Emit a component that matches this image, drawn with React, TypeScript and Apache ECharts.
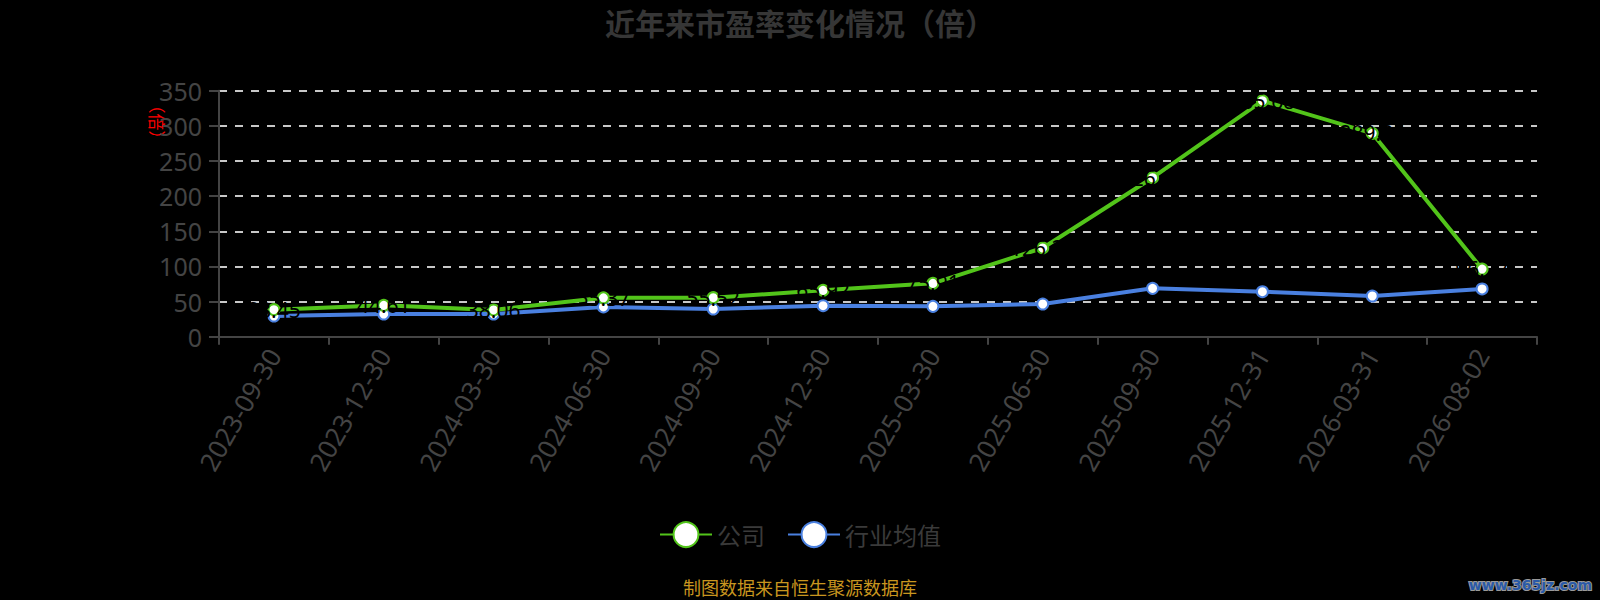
import React, { useEffect, useRef } from "react";
import * as echarts from "echarts";

const categories = [
  "2023-09-30", "2023-12-30", "2024-03-30", "2024-06-30", "2024-09-30", "2024-12-30",
  "2025-03-30", "2025-06-30", "2025-09-30", "2025-12-31", "2026-03-31", "2026-08-02",
];
const companyPE = [38.45, 44.61, 38.06, 55.37, 55.52, 65.92, 75.91, 126.23, 226.17, 335.68, 289.35, 96.27];
const industryPE = [29.4, 32.3, 32.3, 42.3, 39.4, 44.1, 43.2, 46.5, 68.8, 64.0, 57.9, 67.9];
const yTicks = { min: 0, max: 350, interval: 50 };

const FONT = "'Noto Sans', 'Noto Sans CJK SC', sans-serif";
const CJK = "'Noto Sans CJK SC', sans-serif";

export default function App() {
  const ref = useRef<HTMLDivElement>(null);
  useEffect(() => {
    if (!ref.current) return;
    const chart = echarts.init(ref.current, null, { renderer: "svg" });
    chart.setOption({
      animation: false,
      backgroundColor: "#000",
      textStyle: { fontFamily: FONT },
      title: {
        text: "近年来市盈率变化情况（倍）",
        left: "center",
        top: 2,
        textStyle: { fontSize: 30, fontWeight: "bold", color: "#363636", fontFamily: CJK },
      },
      legend: {
        bottom: 47,
        left: "center",
        itemWidth: 52,
        itemHeight: 31,
        itemGap: 22,
        textStyle: { fontSize: 24, color: "#3a3a3a", fontFamily: CJK },
        data: ["公司", "行业均值"],
      },
      grid: { left: 219, right: 63, top: 90.7, bottom: 263.3, containLabel: false },
      xAxis: {
        type: "category",
        data: categories,
        boundaryGap: true,
        axisLine: { lineStyle: { color: "#444", width: 2 } },
        axisTick: { show: true, length: 8, lineStyle: { color: "#444", width: 2 } },
        axisLabel: { rotate: 60, fontSize: 26, color: "#444", margin: 14, interval: 0 },
      },
      yAxis: {
        type: "value",
        min: yTicks.min,
        max: yTicks.max,
        interval: yTicks.interval,
        axisLine: { show: true, lineStyle: { color: "#444", width: 2 } },
        axisTick: { show: true, length: 10, lineStyle: { color: "#444", width: 2 } },
        axisLabel: { fontSize: 25, color: "#444", margin: 17 },
        splitLine: { show: true, lineStyle: { color: "#c8c8c8", width: 2, type: [8, 8] } },
      },
      series: [
        {
          name: "公司",
          type: "line",
          data: companyPE,
          symbol: "emptyCircle",
          symbolSize: 11,
          lineStyle: { color: "#52c41a", width: 4 },
          itemStyle: { color: "#52c41a", borderWidth: 2.5 },
          label: {
            show: true,
            position: "inside",
            color: "#000",
            fontSize: 21,
            formatter: (p: any) => Number(p.value).toFixed(2),
          },
          z: 3,
        },
        {
          name: "行业均值",
          type: "line",
          data: industryPE,
          symbol: "emptyCircle",
          symbolSize: 11,
          lineStyle: { color: "#4a80e0", width: 4 },
          itemStyle: { color: "#4a80e0", borderWidth: 2.5 },
          z: 2,
        },
      ],
      graphic: [
        {
          type: "text",
          x: 157,
          y: 122,
          rotation: -Math.PI / 2,
          style: {
            text: "（倍）",
            fill: "#f00",
            align: "center",
            verticalAlign: "middle",
            font: "17px 'Noto Sans CJK SC', sans-serif",
          },
        },
        {
          type: "text",
          left: "center",
          top: 578,
          style: {
            text: "制图数据来自恒生聚源数据库",
            fill: "#c9961f",
            font: "18px 'Noto Sans CJK SC', sans-serif",
          },
        },
        {
          type: "text",
          right: 7,
          top: 577,
          style: {
            text: "www.365jz.com",
            fill: "#2a5aa8",
            stroke: "#999",
            lineWidth: 2,
            font: "bold 14px 'DejaVu Sans', sans-serif",
          },
        },
      ],
    });
    return () => chart.dispose();
  }, []);
  return (
    <div
      ref={ref}
      style={{ position: "fixed", left: 0, top: 0, width: 1600, height: 600, background: "#000" }}
    />
  );
}
